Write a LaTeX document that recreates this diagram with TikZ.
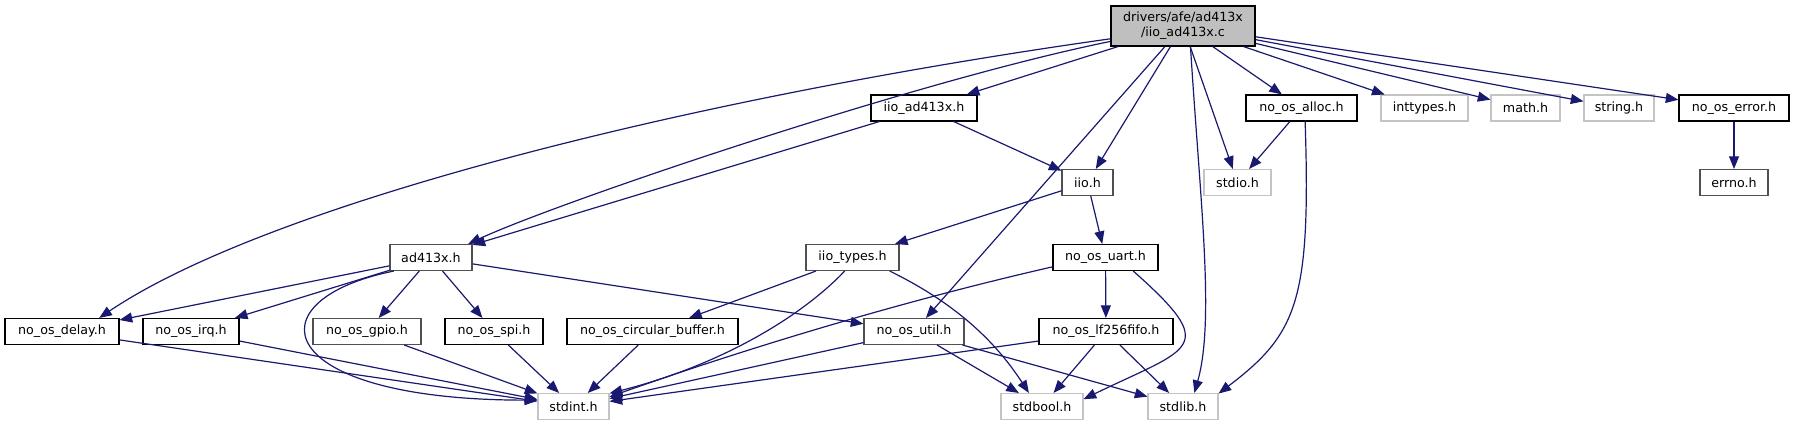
\documentclass[tikz,border=0pt]{standalone}
\usepackage{fontspec}
\setmainfont{DejaVu Sans}
\usepackage{xcolor}
\usepackage{tikz}
\usetikzlibrary{arrows.meta}
\definecolor{edgeblue}{RGB}{25,25,112}
\definecolor{rootgray}{RGB}{191,191,191}
\definecolor{sysgray}{RGB}{196,196,196}
\definecolor{hdrgray}{RGB}{80,80,80}
\tikzset{
  hdr/.style={rectangle, draw=black, fill=white, line width=0.8pt, inner sep=0pt,
    minimum height=19.5pt, font=\fontsize{9.5}{11.5}\selectfont},
  syshdr/.style={hdr, draw=sysgray},
  parthdr/.style={hdr, draw=hdrgray},
  boxw/.style={minimum width=0.75pt*#1},
  arr/.style={-{Triangle[length=9.5pt,width=7.5pt]}, draw=edgeblue, line width=0.9pt},
}

\begin{document}
\begin{tikzpicture}[x=0.75pt, y=0.75pt]
  \useasboundingbox (0,0) rectangle (1794,-425);

  \node[hdr, fill=rootgray, boxw=144, minimum height=30pt, align=center] (iioc) at (1183,-26) {drivers/afe/ad413x\\/iio\_ad413x.c};

  \node[hdr, boxw=106] (iioad) at (924,-108) {iio\_ad413x.h};
  \node[hdr, boxw=111] (alloc) at (1301.5,-108) {no\_os\_alloc.h};
  \node[syshdr, boxw=87] (inttypes) at (1424.5,-108) {inttypes.h};
  \node[syshdr, boxw=69] (math) at (1525.5,-108) {math.h};
  \node[syshdr, boxw=70] (string) at (1619,-108) {string.h};
  \node[hdr, boxw=110] (err) at (1734,-108) {no\_os\_error.h};

  \node[parthdr, boxw=51] (iio) at (1087.5,-182.5) {iio.h};
  \node[syshdr, boxw=67] (stdio) at (1237.5,-182.5) {stdio.h};
  \node[parthdr, boxw=68] (errno) at (1734,-182.5) {errno.h};

  \node[parthdr, boxw=82] (ad) at (431,-257.5) {ad413x.h};
  \node[parthdr, boxw=93] (types) at (852.5,-257.5) {iio\_types.h};
  \node[hdr, boxw=105] (uart) at (1105.5,-257.5) {no\_os\_uart.h};

  \node[hdr, boxw=114] (delay) at (62,-331.5) {no\_os\_delay.h};
  \node[hdr, boxw=96] (irq) at (191,-331.5) {no\_os\_irq.h};
  \node[parthdr, boxw=108] (gpio) at (367,-331.5) {no\_os\_gpio.h};
  \node[hdr, boxw=98] (spi) at (494,-331.5) {no\_os\_spi.h};
  \node[hdr, boxw=171] (cbuf) at (652.5,-331.5) {no\_os\_circular\_buffer.h};
  \node[parthdr, boxw=100] (util) at (914,-331.5) {no\_os\_util.h};
  \node[hdr, boxw=134] (fifo) at (1106,-331.5) {no\_os\_lf256fifo.h};

  \node[syshdr, boxw=71] (stdint) at (573.5,-406.5) {stdint.h};
  \node[syshdr, boxw=82] (stdbool) at (1042,-406.5) {stdbool.h};
  \node[syshdr, boxw=70] (stdlib) at (1183,-406.5) {stdlib.h};

  \draw[arr] (iioc.190) .. controls (669,-101) and (262,-208) .. (delay.20);
  \draw[arr] (iioc.192) .. controls (915,-81) and (556,-203) .. (ad.20);
  \draw[arr] (iioc) -- (iioad);
  \draw[arr] (iioc) -- (util);
  \draw[arr] (iioc) -- (iio);
  \draw[arr] (iioc.-70) .. controls (1200,-200) and (1215,-320) .. (stdlib.50);
  \draw[arr] (iioc) -- (stdio);
  \draw[arr] (iioc) -- (alloc);
  \draw[arr] (iioc) -- (inttypes);
  \draw[arr] (iioc) -- (math);
  \draw[arr] (iioc) -- (string);
  \draw[arr] (iioc) -- (err);

  \draw[arr] (iioad) -- (ad);
  \draw[arr] (iioad) -- (iio);
  \draw[arr] (alloc) -- (stdio);
  \draw[arr] (alloc.-75) .. controls (1311,-301) and (1297,-334) .. (stdlib.20);
  \draw[arr] (err) -- (errno);

  \draw[arr] (iio) -- (types);
  \draw[arr] (iio) -- (uart);

  \draw[arr] (ad) -- (delay);
  \draw[arr] (ad) -- (irq);
  \draw[arr] (ad) -- (gpio);
  \draw[arr] (ad) -- (spi);
  \draw[arr] (ad) -- (util);
  \draw[arr] (ad.200) .. controls (250,-300) and (270,-400) .. (stdint.170);
  \draw[arr] (types) -- (cbuf);
  \draw[arr] (types.-120) .. controls (804,-314) and (725,-364) .. (stdint.20);
  \draw[arr] (types.-20) .. controls (959,-305) and (997,-344) .. (stdbool.134);
  \draw[arr] (uart.190) .. controls (907,-300) and (750,-347) .. (stdint.15);
  \draw[arr] (uart) -- (fifo);
  \draw[arr] (uart.-26) .. controls (1221,-349) and (1191,-347) .. (stdbool.10);

  \draw[arr] (delay) -- (stdint);
  \draw[arr] (irq) -- (stdint);
  \draw[arr] (gpio) -- (stdint);
  \draw[arr] (spi) -- (stdint);
  \draw[arr] (cbuf) -- (stdint);
  \draw[arr] (util) -- (stdint);
  \draw[arr] (util) -- (stdbool);
  \draw[arr] (util) -- (stdlib);
  \draw[arr] (fifo) -- (stdint);
  \draw[arr] (fifo) -- (stdbool);
  \draw[arr] (fifo) -- (stdlib);
\end{tikzpicture}
\end{document}
